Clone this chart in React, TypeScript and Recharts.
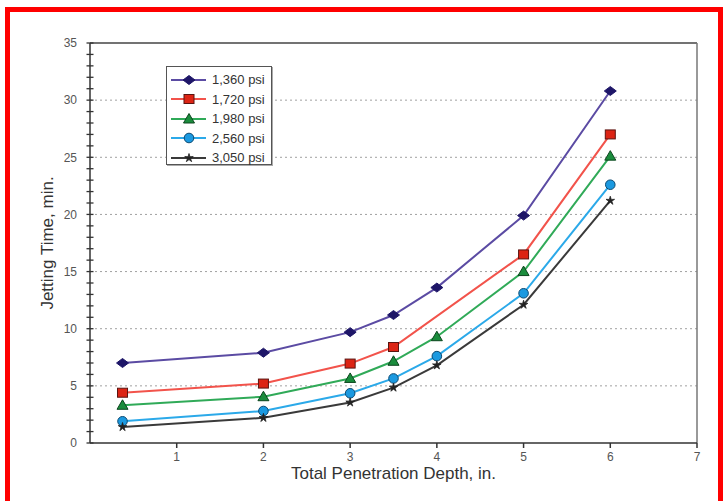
import React from 'react';
import { LineChart, Line, XAxis, YAxis, ReferenceLine, Legend, Label } from 'recharts';

const depth = [0.375, 2, 3, 3.5, 4, 5, 6];
const psi1360 = [7.0, 7.9, 9.7, 11.2, 13.6, 19.9, 30.8];
const psi1720 = [4.4, 5.2, 6.95, 8.4, null, 16.5, 27.0];
const psi1980 = [3.3, 4.05, 5.65, 7.15, 9.3, 15.0, 25.1];
const psi2560 = [1.9, 2.8, 4.35, 5.65, 7.6, 13.1, 22.6];
const psi3050 = [1.4, 2.2, 3.55, 4.85, 6.8, 12.1, 21.2];

const seriesNames = ['1,360 psi', '1,720 psi', '1,980 psi', '2,560 psi', '3,050 psi'];
const xTicks = [1, 2, 3, 4, 5, 6, 7];
const yTicks = Array.from({ length: 36 }, (_, i) => i);
const gridValues = [5, 10, 15, 20, 25, 30];

const data = depth.map((d, i) => ({
  depth: d,
  s1: psi1360[i],
  s2: psi1720[i],
  s3: psi1980[i],
  s4: psi2560[i],
  s5: psi3050[i],
}));

type Shape = 'diamond' | 'square' | 'triangle' | 'circle' | 'star';

const series: { key: string; name: string; line: string; fill: string; stroke: string; shape: Shape }[] = [
  { key: 's1', name: seriesNames[0], line: '#5b4ba3', fill: '#1e1668', stroke: '#1e1668', shape: 'diamond' },
  { key: 's2', name: seriesNames[1], line: '#f2534b', fill: '#dc2414', stroke: '#5a1410', shape: 'square' },
  { key: 's3', name: seriesNames[2], line: '#30aa58', fill: '#1a8c3c', stroke: '#0c461e', shape: 'triangle' },
  { key: 's4', name: seriesNames[3], line: '#2ba9e9', fill: '#1b99e0', stroke: '#0c4a72', shape: 'circle' },
  { key: 's5', name: seriesNames[4], line: '#3a3a3a', fill: '#222222', stroke: '#222222', shape: 'star' },
];

function Marker({ cx, cy, shape, fill, stroke }: { cx: number; cy: number; shape: Shape; fill: string; stroke: string }) {
  if (shape === 'diamond') {
    return <polygon points={`${cx - 6},${cy} ${cx},${cy - 4.5} ${cx + 6},${cy} ${cx},${cy + 4.5}`} fill={fill} stroke={stroke} strokeWidth={1} />;
  }
  if (shape === 'square') {
    return <rect x={cx - 5} y={cy - 4.5} width={10} height={9} fill={fill} stroke={stroke} strokeWidth={1} />;
  }
  if (shape === 'triangle') {
    return <polygon points={`${cx},${cy - 5.5} ${cx + 5.5},${cy + 4} ${cx - 5.5},${cy + 4}`} fill={fill} stroke={stroke} strokeWidth={1} />;
  }
  if (shape === 'circle') {
    return <circle cx={cx} cy={cy} r={4.8} fill={fill} stroke={stroke} strokeWidth={1} />;
  }
  const pts: string[] = [];
  for (let i = 0; i < 10; i++) {
    const r = i % 2 === 0 ? 4.5 : 1.6;
    const a = -Math.PI / 2 + (i * Math.PI) / 5;
    pts.push(`${cx + r * Math.cos(a)},${cy + r * Math.sin(a)}`);
  }
  return <polygon points={pts.join(' ')} fill={fill} stroke={stroke} strokeWidth={0.8} />;
}

const makeDot = (s: typeof series[number]) => (props: any) => {
  const { cx, cy, index } = props;
  if (cx == null || cy == null || props.value == null) return <g key={`${s.key}-${index}`} />;
  return (
    <g key={`${s.key}-${index}`}>
      <Marker cx={cx} cy={cy} shape={s.shape} fill={s.fill} stroke={s.stroke} />
    </g>
  );
};

const YTick = (props: any) => {
  const { x, y, payload } = props;
  const v = payload.value;
  return (
    <g>
      <line x1={x - 3.5} x2={x + 3.5} y1={y} y2={y} stroke="#333" strokeWidth={1.3} />
      {v % 5 === 0 && (
        <text x={x - 13} y={y} dy="0.36em" textAnchor="end" fontSize={12} fill="#555" fontFamily="'Liberation Sans', Arial, sans-serif">
          {v}
        </text>
      )}
    </g>
  );
};

const renderLegend = (props: any) => {
  const payload = props.payload || [];
  return (
    <div
      style={{
        width: 106,
        height: 99,
        border: '1px solid #555',
        background: '#fff',
        boxShadow: '1px 1px 0 #aaa',
        boxSizing: 'border-box',
        paddingTop: 3,
        fontFamily: "'Liberation Sans', Arial, sans-serif",
      }}
    >
      {payload.map((p: any) => {
        const s = series.find((q) => q.key === p.dataKey) || series[0];
        return (
          <div key={s.key} style={{ height: 19.5, display: 'flex', alignItems: 'center' }}>
            <svg width={44} height={14} style={{ display: 'block' }}>
              <line x1={4} x2={39} y1={7} y2={7} stroke={s.line} strokeWidth={2} />
              <Marker cx={22} cy={7} shape={s.shape} fill={s.fill} stroke={s.stroke} />
            </svg>
            <span style={{ fontSize: 13, color: '#333', marginLeft: 1, whiteSpace: 'nowrap' }}>{p.value}</span>
          </div>
        );
      })}
    </div>
  );
};

export default function App() {
  return (
    <div style={{ position: 'absolute', left: 0, top: 0, width: 726, height: 501, background: '#fff', overflow: 'hidden' }}>
      <div
        style={{
          position: 'absolute',
          left: 5,
          top: 7,
          width: 718,
          height: 520,
          border: '5px solid #ff0000',
          boxSizing: 'border-box',
        }}
      />
      <div style={{ position: 'absolute', left: 0, top: 0 }}>
        <LineChart width={726} height={501} data={data} margin={{ top: 43, right: 29, left: 0, bottom: 0 }}>
          <XAxis
            dataKey="depth"
            type="number"
            domain={[0, 7]}
            ticks={xTicks}
            interval={0}
            height={58}
            tickSize={5}
            tickMargin={4}
            stroke="#333"
            strokeWidth={1.5}
            tick={{ fontSize: 12, fill: '#555', fontFamily: "'Liberation Sans', Arial, sans-serif" }}
          >
            <Label
              value="Total Penetration Depth, in."
              position="insideBottom"
              offset={22}
              style={{ fontSize: 17, fill: '#333', fontFamily: "'Liberation Sans', Arial, sans-serif" }}
            />
          </XAxis>
          <YAxis
            type="number"
            domain={[0, 35]}
            ticks={yTicks}
            interval={0}
            width={90}
            tickSize={0}
            tickMargin={0}
            tickLine={false}
            stroke="#333"
            strokeWidth={1.5}
            tick={<YTick />}
          >
            <Label
              value="Jetting Time, min."
              angle={-90}
              position="insideLeft"
              offset={47}
              style={{ fontSize: 17, fill: '#333', textAnchor: 'middle', fontFamily: "'Liberation Sans', Arial, sans-serif" }}
            />
          </YAxis>
          {gridValues.map((v) => (
            <ReferenceLine key={v} y={v} stroke="#a0a0a0" strokeDasharray="2 3" strokeWidth={1} />
          ))}
          <ReferenceLine y={35} stroke="#444" strokeWidth={1.5} />
          <ReferenceLine x={7} stroke="#777" strokeWidth={1.5} />
          <Legend
            layout="vertical"
            align="center"
            verticalAlign="middle"
            wrapperStyle={{ left: 166, top: 66, width: 106, height: 99 }}
            content={renderLegend}
          />
          {series.map((s) => (
            <Line
              key={s.key}
              dataKey={s.key}
              name={s.name}
              stroke={s.line}
              strokeWidth={2}
              type="linear"
              connectNulls
              isAnimationActive={false}
              dot={makeDot(s)}
              activeDot={false}
            />
          ))}
        </LineChart>
      </div>
    </div>
  );
}
